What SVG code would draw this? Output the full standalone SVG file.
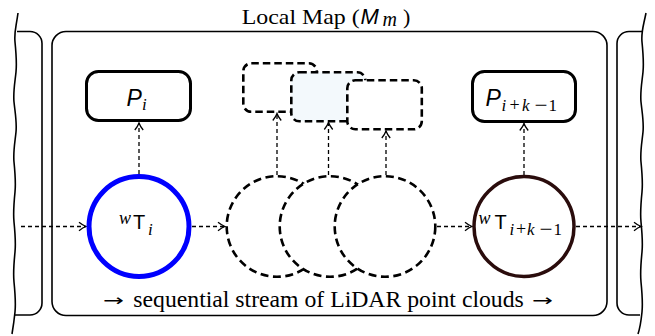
<svg xmlns="http://www.w3.org/2000/svg" width="655" height="336" viewBox="0 0 655 336">
<style>
.frame{fill:none;stroke:#000;stroke-width:1.6}
.pbox{fill:#fff;stroke:#000;stroke-width:3}
.dbox{stroke:#000;stroke-width:2.6;stroke-dasharray:7.5 4}
.dcirc{fill:#fff;stroke:#000;stroke-width:2.6;stroke-dasharray:8 4.5}
.conn{fill:none;stroke:#000;stroke-width:1.3;stroke-dasharray:4 3}
text{fill:#000}
</style>
<defs>
<marker id="arr" markerUnits="userSpaceOnUse" viewBox="-9 -6 10 12" refX="0" refY="0" markerWidth="10" markerHeight="12" orient="auto" overflow="visible">
<path d="M-7,-4.2 Q-3,-1 0,0 Q-3,1 -7,4.2" fill="none" stroke="#000" stroke-width="1.3"/>
</marker>
</defs>
<rect width="655" height="336" fill="#fff"/>

<g id="prev-map">
<path class="frame" d="M17,31.5 H30 A12,12 0 0 1 42,43.5 V303 A12,12 0 0 1 30,315 H14"/>
<path class="frame" d="M18,13 C16,28 14,32 15,42 S17,62 16,72 S13,92 14,102 S17,122 16,132 S13,152 14,162 S16,182 15,192 S13,212 14,222 S16,242 15,252 S13,272 14,282 S16,302 15,312 S13,328 12,334"/>
</g>

<g id="next-map">
<path class="frame" d="M643,31.5 H629 A12,12 0 0 0 617,43.5 V303 A12,12 0 0 0 629,315 H640"/>
<path class="frame" d="M646,13 C643,28 641,32 642,42 S644,62 643,72 S640,92 641,102 S644,122 643,132 S640,152 641,162 S643,182 642,192 S640,212 641,222 S643,242 642,252 S640,272 641,282 S643,302 642,312 S640,328 638,334"/>
</g>

<g id="local-map">
<rect class="frame" x="52" y="31.5" width="555" height="284" rx="14"/>
<text font-family="'Liberation Serif', serif" x="241.7" y="24" font-size="22" textLength="118" lengthAdjust="spacingAndGlyphs">Local Map (</text>
<text font-family="'Liberation Sans', sans-serif" font-style="italic" x="360.5" y="24" font-size="22">M</text>
<text font-family="'Liberation Serif', serif" font-style="italic" x="382.5" y="26" font-size="20">m</text>
<text font-family="'Liberation Serif', serif" x="403" y="24" font-size="22">)</text>
<text font-family="'DejaVu Sans', sans-serif" x="103" y="305.5" font-size="16" textLength="21" lengthAdjust="spacingAndGlyphs">→</text>
<text font-family="'Liberation Serif', serif" x="133.3" y="306.5" font-size="23" textLength="390.5" lengthAdjust="spacingAndGlyphs">sequential stream of LiDAR point clouds</text>
<text font-family="'DejaVu Sans', sans-serif" x="532" y="305.5" font-size="16" textLength="21" lengthAdjust="spacingAndGlyphs">→</text>
</g>

<g id="connectors">
<line class="conn" x1="21" y1="226.5" x2="86" y2="226.5" marker-end="url(#arr)"/>
<line class="conn" x1="192" y1="226.5" x2="225" y2="226.5" marker-end="url(#arr)"/>
<line class="conn" x1="437" y1="226.5" x2="472" y2="226.5" marker-end="url(#arr)"/>
<line class="conn" x1="576" y1="226.5" x2="641" y2="226.5" marker-end="url(#arr)"/>
<line class="conn" x1="139" y1="174" x2="139" y2="123" marker-end="url(#arr)"/>
<line class="conn" x1="277" y1="175" x2="277" y2="113.5" marker-end="url(#arr)"/>
<line class="conn" x1="328.5" y1="175" x2="328.5" y2="122.5" marker-end="url(#arr)"/>
<line class="conn" x1="386" y1="175" x2="386" y2="131" marker-end="url(#arr)"/>
<line class="conn" x1="524" y1="175" x2="524" y2="123.5" marker-end="url(#arr)"/>
</g>

<g id="P_i">
<rect class="pbox" x="86.5" y="71.5" width="104" height="49" rx="12"/>
<text font-family="'Liberation Sans', sans-serif" font-style="italic" x="126.5" y="106" font-size="23">P</text>
<text font-family="'Liberation Serif', serif" font-style="italic" x="142" y="109.5" font-size="17">i</text>
</g>

<g id="P_mid1">
<rect class="dbox" fill="#fff" x="243.3" y="63.3" width="73.5" height="48.5" rx="8"/>
</g>
<g id="P_mid2">
<rect class="dbox" fill="#f3f9fc" x="291.3" y="72.3" width="74" height="49" rx="8"/>
</g>
<g id="P_mid3">
<rect class="dbox" fill="#fff" x="347.3" y="80.3" width="74.5" height="49" rx="8"/>
</g>

<g id="P_ik1">
<rect class="pbox" x="472.5" y="71.5" width="103" height="50" rx="12"/>
<text font-family="'Liberation Sans', sans-serif" font-style="italic" x="485.5" y="106" font-size="23">P</text>
<text font-family="'Liberation Serif', serif" font-style="italic" x="501.5" y="111" font-size="17">i</text>
<text font-family="'Liberation Serif', serif" x="509.5" y="111" font-size="18">+</text>
<text font-family="'Liberation Serif', serif" font-style="italic" x="522" y="111" font-size="17">k</text>
<text font-family="'Liberation Serif', serif" x="534.5" y="111" font-size="18" textLength="13" lengthAdjust="spacingAndGlyphs">−</text>
<text font-family="'Liberation Serif', serif" x="548.5" y="111" font-size="17">1</text>
</g>

<g id="T_i">
<circle cx="139" cy="226.5" r="50" fill="#fff" stroke="#0000ff" stroke-width="5"/>
<text font-family="'Liberation Serif', serif" font-style="italic" x="119" y="223.5" font-size="18">w</text>
<text font-family="'Liberation Sans', sans-serif" x="133" y="229" font-size="20">T</text>
<text font-family="'Liberation Serif', serif" font-style="italic" x="148" y="235" font-size="17">i</text>
</g>

<g id="T_mid1">
<circle class="dcirc" cx="277" cy="226.5" r="50.3"/>
</g>
<g id="T_mid2">
<circle class="dcirc" cx="330" cy="226.5" r="50.3"/>
</g>
<g id="T_mid3">
<circle class="dcirc" cx="385" cy="226.5" r="50.3"/>
</g>

<g id="T_ik1">
<circle cx="524" cy="226.5" r="50" fill="#fff" stroke="#2a0c0c" stroke-width="3.5"/>
<text font-family="'Liberation Serif', serif" font-style="italic" x="478.5" y="223.5" font-size="18">w</text>
<text font-family="'Liberation Sans', sans-serif" x="494.5" y="229" font-size="20">T</text>
<text font-family="'Liberation Serif', serif" font-style="italic" x="509.5" y="235" font-size="17">i</text>
<text font-family="'Liberation Serif', serif" x="516" y="235" font-size="18">+</text>
<text font-family="'Liberation Serif', serif" font-style="italic" x="527" y="235" font-size="17">k</text>
<text font-family="'Liberation Serif', serif" x="539.5" y="235" font-size="18" textLength="13" lengthAdjust="spacingAndGlyphs">−</text>
<text font-family="'Liberation Serif', serif" x="553.5" y="235" font-size="17">1</text>
</g>
</svg>
